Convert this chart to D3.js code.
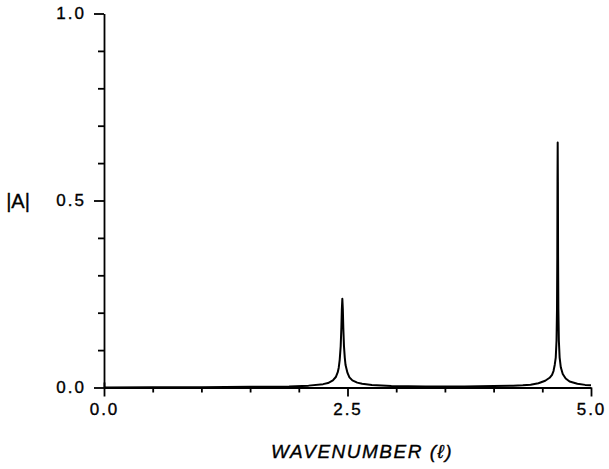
<!DOCTYPE html>
<html>
<head>
<meta charset="utf-8">
<script src="https://cdn.jsdelivr.net/npm/d3@7"></script>
<style>
  body { margin: 0; background: #fff; }
  svg { display: block; }
  text { font-family: "Liberation Sans", Arial, sans-serif; fill: #000; stroke: #000; stroke-width: 0.35px; }
</style>
</head>
<body>
<svg id="chart"></svg>
<script>
// values
const wavenumber = [0.0, 0.5, 1.0, 1.5, 1.9, 2.1, 2.25, 2.30, 2.35, 2.38, 2.40, 2.41, 2.42, 2.43, 2.437, 2.442,
  2.447, 2.452, 2.457, 2.464, 2.472, 2.48, 2.50, 2.52, 2.55, 2.60, 2.65, 2.75, 2.95, 3.3, 3.7, 4.0, 4.2, 4.3,
  4.38, 4.46, 4.53, 4.575, 4.60, 4.615, 4.628, 4.638, 4.646, 4.651, 4.654, 4.656, 4.658, 4.660, 4.662, 4.665,
  4.670, 4.678, 4.69, 4.71, 4.74, 4.78, 4.86, 4.94, 5.0];
const amplitude = [0.000, 0.001, 0.001, 0.002, 0.003, 0.005, 0.009, 0.012, 0.019, 0.028, 0.041, 0.053, 0.074, 0.11, 0.16, 0.21,
  0.237, 0.21, 0.16, 0.11, 0.08, 0.06, 0.039, 0.027, 0.019, 0.013, 0.010, 0.007, 0.004, 0.003, 0.003, 0.004, 0.005, 0.006,
  0.0075, 0.0115, 0.018, 0.026, 0.034, 0.044, 0.061, 0.080, 0.125, 0.21, 0.35, 0.55, 0.655, 0.55, 0.35, 0.21,
  0.125, 0.080, 0.054, 0.036, 0.024, 0.016, 0.010, 0.007, 0.006];

const xMajor = [0.0, 2.5, 5.0];
const xMinor = [0.5, 1.0, 1.5, 2.0, 3.0, 3.5, 4.0, 4.5];
const yMajor = [0.0, 0.5, 1.0];
const yMinor = [0.1, 0.2, 0.3, 0.4, 0.6, 0.7, 0.8, 0.9];

const width = 609;
const height = 469;

let svg = d3.select('#chart')
    .attr('width', width)
    .attr('height', height);

let xScale = d3.scaleLinear()
    .domain([0, 5])
    .range([104, 591]);

let yScale = d3.scaleLinear()
    .domain([0, 1])
    .range([387.5, 13.5]);

// x axis: minor ticks, then major ticks with labels
svg.append('g')
    .attr('transform', 'translate(0,' + yScale(0) + ')')
    .call(d3.axisBottom(xScale).tickValues(xMinor).tickSize(5).tickSizeOuter(0).tickFormat(''))
    .call(g => g.select('.domain').remove());

let xAxis = svg.append('g')
    .attr('transform', 'translate(0,' + yScale(0) + ')')
    .call(d3.axisBottom(xScale).tickValues(xMajor).tickSize(9).tickSizeOuter(0).tickPadding(6).tickFormat(d3.format('.1f')));
xAxis.selectAll('text')
    .style('font-size', '17px')
    .style('letter-spacing', '2px');
// the 0.0 tick crosses the axis
xAxis.selectAll('.tick line').filter(d => d === 0).attr('y1', -5);

// y axis
svg.append('g')
    .attr('transform', 'translate(' + xScale(0) + ',0)')
    .call(d3.axisLeft(yScale).tickValues(yMinor).tickSize(6).tickSizeOuter(0).tickFormat(''))
    .call(g => g.select('.domain').remove());

let yAxis = svg.append('g')
    .attr('transform', 'translate(' + xScale(0) + ',0)')
    .call(d3.axisLeft(yScale).tickValues(yMajor).tickSize(10).tickSizeOuter(0).tickPadding(8).tickFormat(d3.format('.1f')));
yAxis.selectAll('text')
    .style('font-size', '17px')
    .style('letter-spacing', '2px');

svg.selectAll('.domain, .tick line')
    .attr('stroke', '#000')
    .attr('stroke-width', 1.8);

// labels
svg.append('text')
    .attr('x', 18)
    .attr('y', 208)
    .attr('text-anchor', 'middle')
    .style('font-size', '20px')
    .text('|A|');

svg.append('text')
    .attr('x', 362)
    .attr('y', 458)
    .attr('text-anchor', 'middle')
    .style('font-size', '19px')
    .style('font-style', 'italic')
    .style('letter-spacing', '1.5px')
    .text('WAVENUMBER (ℓ)');

// curve
let line = d3.line()
    .x((d, i) => xScale(wavenumber[i]))
    .y(d => yScale(d));

svg.append('path')
    .datum(amplitude)
    .attr('fill', 'none')
    .attr('stroke', '#000')
    .attr('stroke-width', 2)
    .attr('stroke-linejoin', 'round')
    .attr('d', line);
</script>
</body>
</html>
